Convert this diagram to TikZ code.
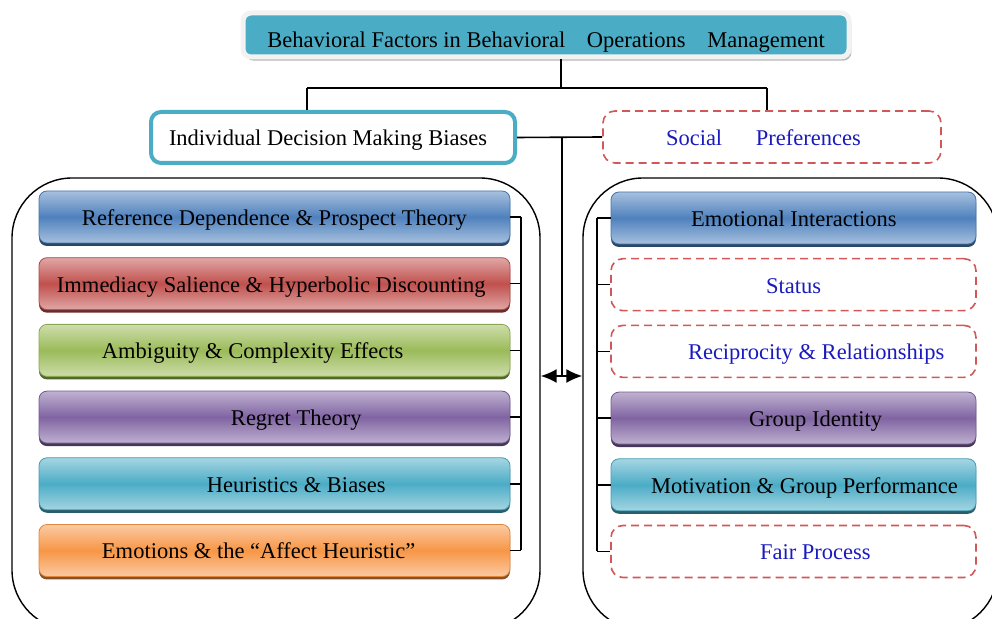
\documentclass[tikz,border=0pt]{standalone}
\usepackage{fontspec}
\setmainfont{Liberation Serif}
\usetikzlibrary{positioning,shadows,arrows.meta}

\definecolor{refblue}{HTML}{4F81BD}
\definecolor{refred}{HTML}{C0504D}
\definecolor{refgreen}{HTML}{9BBB59}
\definecolor{refpurple}{HTML}{8064A2}
\definecolor{refteal}{HTML}{4BACC6}
\definecolor{reforange}{HTML}{F79646}
\definecolor{dashred}{HTML}{D05858}
\definecolor{prefblue}{HTML}{1A1ABF}

\tikzset{wire/.style={%
  draw,
  line width=0.8pt,
  }
}
\tikzset{factor/.style={%
  rounded corners=4pt,
  minimum height=26pt,
  inner xsep=0pt,
  text height=9.5pt,
  text depth=1pt,
  align=flush left,
  top color=#1!50!white,
  bottom color=#1!50!white,
  middle color=#1,
  draw=#1!90!black,
  drop shadow={shadow xshift=0pt, shadow yshift=-1.5pt, fill=#1!55!black, opacity=1},
  }
}
\tikzset{pref/.style={%
  rounded corners=6pt,
  minimum height=26pt,
  inner xsep=0pt,
  text height=9.5pt,
  text depth=1pt,
  align=flush left,
  draw=dashred,
  line width=0.8pt,
  dash pattern=on 4pt off 2.5pt,
  text=prefblue,
  }
}
\tikzset{leftcol/.style={text width=235.5pt}}
\tikzset{rightcol/.style={text width=182.5pt}}
\tikzset{panel/.style={%
  draw,
  line width=0.7pt,
  rounded corners=30pt,
  minimum height=226pt,
  }
}

\begin{document}
\begin{tikzpicture}[x=0.5pt,y=-0.5pt,font=\fontsize{11.25}{13}\selectfont,node distance=33.35pt]
  \useasboundingbox (0,0) rectangle (992,619);

  % the two panels
  \node (leftpanel) [panel, minimum width=264pt] at (276,404) {};
  \node (rightpanel) [panel, minimum width=207.5pt] at (790.5,404) {};

  % heading row
  \node (title) [fill=refteal, draw=gray!10, line width=2.5pt, rounded corners=4pt,
    minimum width=303pt, minimum height=22pt, text height=13pt, text depth=0pt,
    drop shadow={shadow xshift=1.2pt, shadow yshift=-1.8pt, fill=gray!55, opacity=1}]
    at (546,35) {Behavioral Factors in Behavioral\hspace{8pt} Operations\hspace{8pt} Management};

  \node (ind) [fill=white, draw=refteal, line width=2pt, rounded corners=5pt,
    minimum height=25.5pt, inner xsep=0pt, text width=182pt, align=flush left,
    text height=9.5pt, text depth=1pt] at (333,137.5) {\hspace*{9pt}Individual Decision Making Biases};
  \node (soc) [pref, text width=169pt] at (772,137) {\hspace*{31.5pt}Social\hspace{14pt} Preferences};

  % left column
  \node (L1) [factor=refblue, leftcol] at (274.5,217) {\hspace*{21.5pt}Reference Dependence \& Prospect Theory};
  \node (L2) [factor=refred, leftcol, below of=L1] {\hspace*{9pt}Immediacy Salience \& Hyperbolic Discounting};
  \node (L3) [factor=refgreen, leftcol, below of=L2] {\hspace*{31.5pt}Ambiguity \& Complexity Effects};
  \node (L4) [factor=refpurple, leftcol, below of=L3] {\hspace*{96pt}Regret Theory};
  \node (L5) [factor=refteal, leftcol, below of=L4] {\hspace*{84pt}Heuristics \& Biases};
  \node (L6) [factor=reforange, leftcol, below of=L5] {\hspace*{31.5pt}Emotions \& the “Affect Heuristic”};

  % right column
  \node (R1) [factor=refblue, rightcol] at (793.5,218) {\hspace*{40pt}Emotional Interactions};
  \node (R2) [pref, rightcol, below of=R1] {\hspace*{77.5pt}Status};
  \node (R3) [pref, rightcol, below of=R2] {\hspace*{38.5pt}Reciprocity \& Relationships};
  \node (R4) [factor=refpurple, rightcol, below of=R3] {\hspace*{69pt}Group Identity};
  \node (R5) [factor=refteal, rightcol, below of=R4] {\hspace*{20pt}Motivation \& Group Performance};
  \node (R6) [pref, rightcol, below of=R5] {\hspace*{74.5pt}Fair Process};

  \coordinate (split) at (561,88);
  \coordinate (lbranch) at (307,88);
  \coordinate (rbranch) at (767,88);
  \coordinate (mid) at (562,376);
  \coordinate (lbus) at (521,0);
  \coordinate (rbus) at (597,0);

  \draw [wire] (title.south -| split) -- (split);
  \draw [wire] (lbranch) -- (rbranch);
  \draw [wire] (lbranch) -- (lbranch |- ind.north);
  \draw [wire] (rbranch) -- (rbranch |- soc.north);
  \draw [wire] (ind.east) -- (soc.west);
  \draw [wire] (ind.east -| mid) -- (mid);
  \draw [wire, {Latex[length=8pt,width=7pt]}-{Latex[length=8pt,width=7pt]}]
    (leftpanel.east |- mid) -- (rightpanel.west |- mid);

  \foreach \n in {1,...,6} {
    \draw [wire] (L\n.east) -- (L\n.east -| lbus);
    \draw [wire] (R\n.west) -- (R\n.west -| rbus);
  }
  \draw [wire] (L1.east -| lbus) -- (L6.east -| lbus);
  \draw [wire] (R1.west -| rbus) -- (R6.west -| rbus);
\end{tikzpicture}
\end{document}
